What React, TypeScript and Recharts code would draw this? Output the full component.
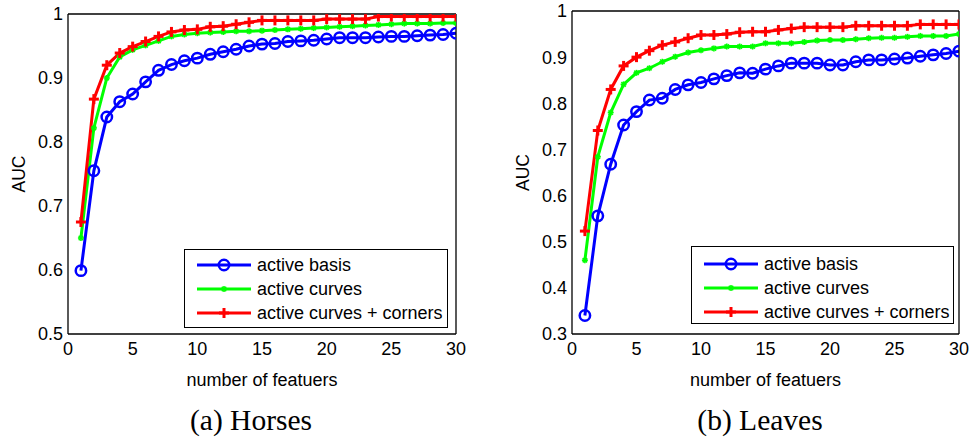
import React from 'react';
import {Label, Legend, Line, LineChart, XAxis, YAxis} from 'recharts';

// number of features on the x axis
const features = [1, 2, 3, 4, 5, 6, 7, 8, 9, 10, 11, 12, 13, 14, 15, 16, 17, 18, 19, 20, 21, 22, 23, 24, 25, 26, 27, 28, 29, 30];
const xTicks = [0, 5, 10, 15, 20, 25, 30];

// (a) Horses
const horsesBasis = [0.599, 0.755, 0.839, 0.863, 0.875, 0.894, 0.912, 0.921, 0.927, 0.931, 0.937, 0.941, 0.945, 0.950, 0.953, 0.954, 0.957, 0.958, 0.959, 0.961, 0.963, 0.963, 0.963, 0.964, 0.965, 0.965, 0.966, 0.967, 0.968, 0.970];
const horsesCurves = [0.650, 0.822, 0.900, 0.933, 0.944, 0.951, 0.958, 0.965, 0.968, 0.970, 0.971, 0.972, 0.973, 0.973, 0.974, 0.975, 0.976, 0.977, 0.978, 0.979, 0.980, 0.981, 0.982, 0.983, 0.984, 0.985, 0.985, 0.985, 0.986, 0.986];
const horsesCorners = [0.675, 0.867, 0.920, 0.939, 0.949, 0.957, 0.965, 0.972, 0.975, 0.976, 0.980, 0.981, 0.984, 0.987, 0.990, 0.990, 0.990, 0.990, 0.990, 0.992, 0.992, 0.992, 0.992, 0.996, 0.996, 0.996, 0.996, 0.996, 0.996, 0.996];
const horsesYTicks = [0.5, 0.6, 0.7, 0.8, 0.9, 1];

// (b) Leaves
const leavesBasis = [0.340, 0.556, 0.668, 0.753, 0.782, 0.807, 0.811, 0.830, 0.840, 0.845, 0.853, 0.860, 0.866, 0.865, 0.874, 0.881, 0.887, 0.887, 0.887, 0.883, 0.883, 0.890, 0.894, 0.894, 0.896, 0.898, 0.902, 0.905, 0.908, 0.913];
const leavesCurves = [0.460, 0.684, 0.780, 0.841, 0.866, 0.876, 0.890, 0.901, 0.910, 0.915, 0.919, 0.923, 0.923, 0.923, 0.930, 0.930, 0.930, 0.933, 0.936, 0.937, 0.937, 0.939, 0.941, 0.942, 0.942, 0.944, 0.946, 0.946, 0.946, 0.950];
const leavesCorners = [0.523, 0.741, 0.830, 0.881, 0.900, 0.914, 0.926, 0.933, 0.941, 0.948, 0.948, 0.950, 0.954, 0.955, 0.955, 0.959, 0.962, 0.965, 0.965, 0.965, 0.965, 0.968, 0.968, 0.968, 0.968, 0.968, 0.971, 0.971, 0.971, 0.971];
const leavesYTicks = [0.3, 0.4, 0.5, 0.6, 0.7, 0.8, 0.9, 1];

const seriesNames = ['active basis', 'active curves', 'active curves + corners'];

const BLUE = '#0000ff';
const GREEN = '#00ff00';
const RED = '#ff0000';
const SANS = '"Liberation Sans", Arial, Helvetica, sans-serif';

const toRows = (basis: number[], curves: number[], corners: number[]) =>
  features.map((n, i) => ({n, basis: basis[i], curves: curves[i], corners: corners[i]}));

// matlab-style markers
const CircleMark = ({cx, cy}: {cx: number; cy: number}) => (
  <circle cx={cx} cy={cy} r={5.2} fill="none" stroke={BLUE} strokeWidth={2.5}/>
);
const StarMark = ({cx, cy}: {cx: number; cy: number}) => (
  <g stroke={GREEN} strokeWidth={1.6}>
    <line x1={cx - 3} y1={cy} x2={cx + 3} y2={cy}/>
    <line x1={cx} y1={cy - 3} x2={cx} y2={cy + 3}/>
    <line x1={cx - 2.2} y1={cy - 2.2} x2={cx + 2.2} y2={cy + 2.2}/>
    <line x1={cx - 2.2} y1={cy + 2.2} x2={cx + 2.2} y2={cy - 2.2}/>
  </g>
);
const PlusMark = ({cx, cy}: {cx: number; cy: number}) => (
  <g stroke={RED} strokeWidth={3}>
    <line x1={cx - 5} y1={cy} x2={cx + 5} y2={cy}/>
    <line x1={cx} y1={cy - 5} x2={cx} y2={cy + 5}/>
  </g>
);

const markers: Record<string, any> = {basis: CircleMark, curves: StarMark, corners: PlusMark};
const colors: Record<string, string> = {basis: BLUE, curves: GREEN, corners: RED};

const dotFor = (key: string) => (p: any) => {
  if (p.cx == null || p.cy == null) return <g key={`${key}-${p.index}`}/>;
  const M = markers[key];
  return <g key={`${key}-${p.index}`}><M cx={p.cx} cy={p.cy}/></g>;
};

const LegendBox = ({payload, rowTop}: any) => (
  <div style={{
    width: '100%', height: '100%', boxSizing: 'border-box', border: '1.3px solid #000',
    background: '#fff', position: 'relative', fontFamily: SANS, fontSize: 18, color: '#000',
  }}>
    {(payload || []).map((item: any, i: number) => {
      const key = item.dataKey as string;
      const M = markers[key];
      return (
        <div key={key} style={{position: 'absolute', left: 0, top: rowTop + i * 24 - 12, height: 24, display: 'flex', alignItems: 'center'}}>
          <svg width={70} height={24}>
            <line x1={12} y1={12} x2={66} y2={12} stroke={colors[key]} strokeWidth={3}/>
            <M cx={39} cy={12}/>
          </svg>
          <span style={{marginLeft: 2, whiteSpace: 'nowrap'}}>{item.value}</span>
        </div>
      );
    })}
  </div>
);

type PanelProps = {
  rows: any[];
  yDomain: [number, number];
  yTicks: number[];
  margin: {top: number; right: number; bottom: number; left: number};
  legend: {left: number; top: number; width: number; height: number; rowTop: number};
};

const frame = {stroke: '#000', strokeWidth: 1.3};
const inTick = {stroke: '#000', strokeWidth: 1.2};

const Panel = ({rows, yDomain, yTicks, margin, legend}: PanelProps) => (
  <LineChart width={486} height={400} data={rows} margin={margin}>
    <XAxis xAxisId="x" dataKey="n" type="number" domain={[0, 30]} ticks={xTicks} allowDataOverflow
           height={40} tickLine={false} tickSize={0} tickMargin={8}
           axisLine={frame} tick={{fill: '#000', fontSize: 18}}>
      <Label content={(p: any) => {
        const vb = p.viewBox;
        return (
          <text x={vb.x + vb.width / 2} y={vb.y + 46} textAnchor="middle" dominantBaseline="central"
                fontSize={18} fill="#000">number of featuers</text>
        );
      }}/>
    </XAxis>
    {/* inward ticks on the bottom and the top edge */}
    <XAxis xAxisId="xb" type="number" domain={[0, 30]} ticks={xTicks} mirror tick={false}
           tickSize={5} axisLine={false} tickLine={inTick}/>
    <XAxis xAxisId="xt" orientation="top" type="number" domain={[0, 30]} ticks={xTicks} mirror tick={false}
           tickSize={5} axisLine={frame} tickLine={inTick}/>
    <YAxis yAxisId="y" type="number" domain={yDomain} ticks={yTicks} allowDataOverflow width={60}
           tickLine={false} tickSize={0} tickMargin={5}
           axisLine={frame} tick={{fill: '#000', fontSize: 18}}>
      <Label content={(p: any) => {
        const vb = p.viewBox;
        const x = vb.x + vb.width - 49;
        const y = vb.y + vb.height / 2;
        return (
          <text x={x} y={y} transform={`rotate(-90 ${x} ${y})`} textAnchor="middle"
                dominantBaseline="central" fontSize={17.5} fill="#000">AUC</text>
        );
      }}/>
    </YAxis>
    <YAxis yAxisId="yl" type="number" domain={yDomain} ticks={yTicks} mirror tick={false}
           tickSize={5} axisLine={false} tickLine={inTick}/>
    <YAxis yAxisId="yr" orientation="right" type="number" domain={yDomain} ticks={yTicks} mirror tick={false}
           tickSize={5} axisLine={frame} tickLine={inTick}/>
    <Legend layout="horizontal" verticalAlign="middle" align="center"
            wrapperStyle={{left: legend.left, top: legend.top, width: legend.width, height: legend.height, right: 'auto', bottom: 'auto'}}
            content={(p: any) => <LegendBox payload={p.payload} rowTop={legend.rowTop}/>}/>
    <Line xAxisId="x" yAxisId="y" name={seriesNames[0]} dataKey="basis" type="linear" stroke={BLUE}
          strokeWidth={3} dot={dotFor('basis')} activeDot={false} isAnimationActive={false}/>
    <Line xAxisId="x" yAxisId="y" name={seriesNames[1]} dataKey="curves" type="linear" stroke={GREEN}
          strokeWidth={3} dot={dotFor('curves')} activeDot={false} isAnimationActive={false}/>
    <Line xAxisId="x" yAxisId="y" name={seriesNames[2]} dataKey="corners" type="linear" stroke={RED}
          strokeWidth={3} dot={dotFor('corners')} activeDot={false} isAnimationActive={false}/>
  </LineChart>
);

const captionStyle: React.CSSProperties = {
  position: 'absolute', top: 406, width: 240, textAlign: 'center',
  fontFamily: '"Liberation Serif", "Times New Roman", serif', fontSize: 29.5, lineHeight: '28px', color: '#000',
};

export default function App() {
  return (
    <div style={{position: 'absolute', left: 0, top: 0, width: 972, height: 446, background: '#fff', fontFamily: SANS}}>
      <div style={{position: 'absolute', left: 0, top: 0}}>
        <Panel rows={toRows(horsesBasis, horsesCurves, horsesCorners)} yDomain={[0.5, 1]} yTicks={horsesYTicks}
               margin={{top: 14, right: 30, bottom: 26, left: 8}}
               legend={{left: 184, top: 249, width: 264, height: 79, rowTop: 15}}/>
      </div>
      <div style={{position: 'absolute', left: 486, top: 0}}>
        <Panel rows={toRows(leavesBasis, leavesCurves, leavesCorners)} yDomain={[0.3, 1]} yTicks={leavesYTicks}
               margin={{top: 11, right: 13, bottom: 26, left: 26}}
               legend={{left: 205, top: 246, width: 263, height: 78, rowTop: 17}}/>
      </div>
      <div style={{...captionStyle, left: 131}}>(a) Horses</div>
      <div style={{...captionStyle, left: 640}}>(b) Leaves</div>
    </div>
  );
}
